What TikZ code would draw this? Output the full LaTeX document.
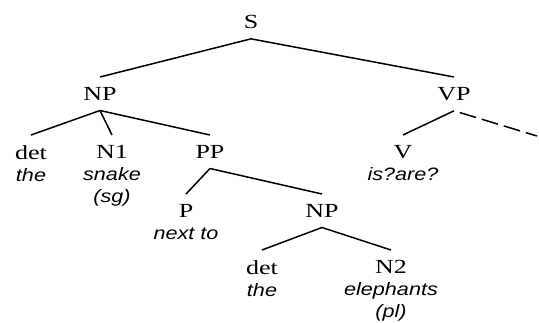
\documentclass[tikz,border=0pt]{standalone}
\usepackage{fontspec}
\setmainfont{Liberation Serif}[FakeStretch=1.3]
\newfontfamily\wordfont{Liberation Sans}[FakeStretch=1.2]
\newcommand\wrd[1]{{\wordfont\itshape\fontsize{18}{22}\selectfont #1}}

\begin{document}
\begin{tikzpicture}[x=1pt,y=-1pt,
  cat/.style={anchor=north,align=center,inner xsep=2pt,inner ysep=10pt,font=\fontsize{20}{22}\selectfont},
  branch/.style={line width=1.5pt}]
\useasboundingbox (0,0) rectangle (539,322);
\node[cat] (s) at (251,5) {S};
\node[cat] (np) at (100,77) {NP};
\node[cat] (vp) at (454,77) {VP};
\node[cat] (det1) at (31,135) {det\\ \wrd{the}};
\node[cat] (n1) at (112,135) {N1\\ \wrd{snake}\\ \wrd{(sg)}};
\node[cat] (pp) at (210,135) {PP};
\node[cat] (v) at (403,135) {V\\ \wrd{is?are?}};
\node[cat] (p) at (186,194) {P\\ \wrd{next to}};
\node[cat] (np2) at (322,194) {NP};
\node[cat] (det2) at (262,250) {det\\ \wrd{the}};
\node[cat] (n2) at (391,250) {N2\\ \wrd{elephants}\\ \wrd{(pl)}};
\coordinate (vprest) at (537,136);
\draw[branch] (s.south) -- (np.north);
\draw[branch] (s.south) -- (vp.north);
\draw[branch] (np.south) -- (det1.north);
\draw[branch] (np.south) -- (n1.north);
\draw[branch] (np.south) -- (pp.north);
\draw[branch] (vp.south) -- (v.north);
\draw[branch,dash pattern=on 17pt off 6pt,dash phase=17pt] (vp.south) -- (vprest);
\draw[branch] (pp.south) -- (p.north);
\draw[branch] (pp.south) -- (np2.north);
\draw[branch] (np2.south) -- (det2.north);
\draw[branch] (np2.south) -- (n2.north);
\end{tikzpicture}
\end{document}
